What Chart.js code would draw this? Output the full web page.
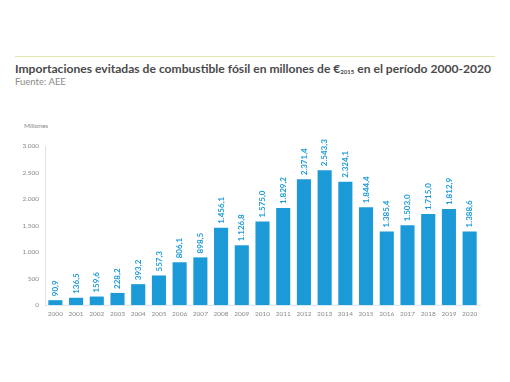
<!DOCTYPE html>
<html><head><meta charset="utf-8">
<script src="https://cdn.jsdelivr.net/npm/chart.js@4"></script>
<style>
html,body{margin:0;padding:0;background:#fff;}
#wrap{position:relative;width:510px;height:382px;overflow:hidden;}
#rule{position:absolute;left:15px;top:56px;width:480px;height:0;border-top:1.5px solid #dfe9b0;}
#title{position:absolute;left:15px;top:61px;font-family:Lato,sans-serif;font-weight:700;font-size:12.1px;color:#4a4a4a;white-space:nowrap;letter-spacing:0px;}
#title sub{font-size:6px;vertical-align:-1px;}
#sub{position:absolute;left:15px;top:76px;font-family:Lato,sans-serif;font-size:9.5px;color:#8a8a8a;}
#mil{position:absolute;left:24px;top:122px;font-family:Lato,sans-serif;font-size:6.5px;color:#8a8a8a;}
canvas{position:absolute;left:0;top:0;}
</style></head>
<body><div id="wrap">
<div id="rule"></div>
<div id="title">Importaciones evitadas de combustible fósil en millones de €<sub>2015</sub> en el período 2000-2020</div>
<div id="sub">Fuente: AEE</div>
<div id="mil">Millones</div>
<canvas id="c" width="510" height="382"></canvas>
</div>
<script>
const categories = ["2000","2001","2002","2003","2004","2005","2006","2007","2008","2009","2010","2011","2012","2013","2014","2015","2016","2017","2018","2019","2020"];
const values = [90.9,136.5,159.6,228.2,393.2,557.3,806.1,898.5,1456.1,1126.8,1575.0,1829.2,2371.4,2543.3,2324.1,1844.4,1385.4,1503.0,1715.0,1812.9,1388.6];
const yTicks = [0,500,1000,1500,2000,2500,3000];

function fmt(v, dec){
  let s = v.toFixed(dec);
  let [i,d] = s.split('.');
  i = i.replace(/\B(?=(\d{3})+(?!\d))/g,'.');
  return d ? i+','+d : i;
}
const BLUE = '#1b9ad7';
const labelPlugin = {
  id:'vlabels',
  afterDatasetsDraw(chart){
    const ctx = chart.ctx;
    const meta = chart.getDatasetMeta(0);
    ctx.save();
    ctx.fillStyle = BLUE;
    ctx.font = '700 8px Lato, sans-serif';
    ctx.textAlign = 'left';
    ctx.textBaseline = 'middle';
    meta.data.forEach((bar,i)=>{
      ctx.save();
      ctx.translate(bar.x, bar.y - 4);
      ctx.rotate(-Math.PI/2);
      ctx.fillText(fmt(values[i],1), 0, 0);
      ctx.restore();
    });
    ctx.restore();
  }
};
new Chart(document.getElementById('c'),{
  type:'bar',
  data:{labels:categories,datasets:[{data:values,backgroundColor:BLUE,barPercentage:0.68,categoryPercentage:1.0}]},
  options:{
    responsive:false,animation:false,
    layout:{padding:{top:146,right:30,left:0,bottom:0}},
    plugins:{legend:{display:false},tooltip:{enabled:false}},
    scales:{
      x:{grid:{display:false,drawTicks:false},border:{display:true,color:'#dbe9f3',width:1},
         ticks:{color:'#8a8a8a',font:{family:'Lato',size:6.5},padding:5,maxRotation:0,autoSkip:false},
         afterFit(s){s.height=77;}},
      y:{min:0,max:3000,afterBuildTicks(s){s.ticks=yTicks.map(v=>({value:v}));},
         grid:{display:false,drawTicks:false},border:{display:true,color:'#e2e2e2',width:1},
         ticks:{color:'#8a8a8a',font:{family:'Lato',size:6.5},padding:6,callback:v=>fmt(v,0)},
         afterFit(s){s.width=45;}}
    }
  },
  plugins:[labelPlugin]
});
</script>
</body></html>
